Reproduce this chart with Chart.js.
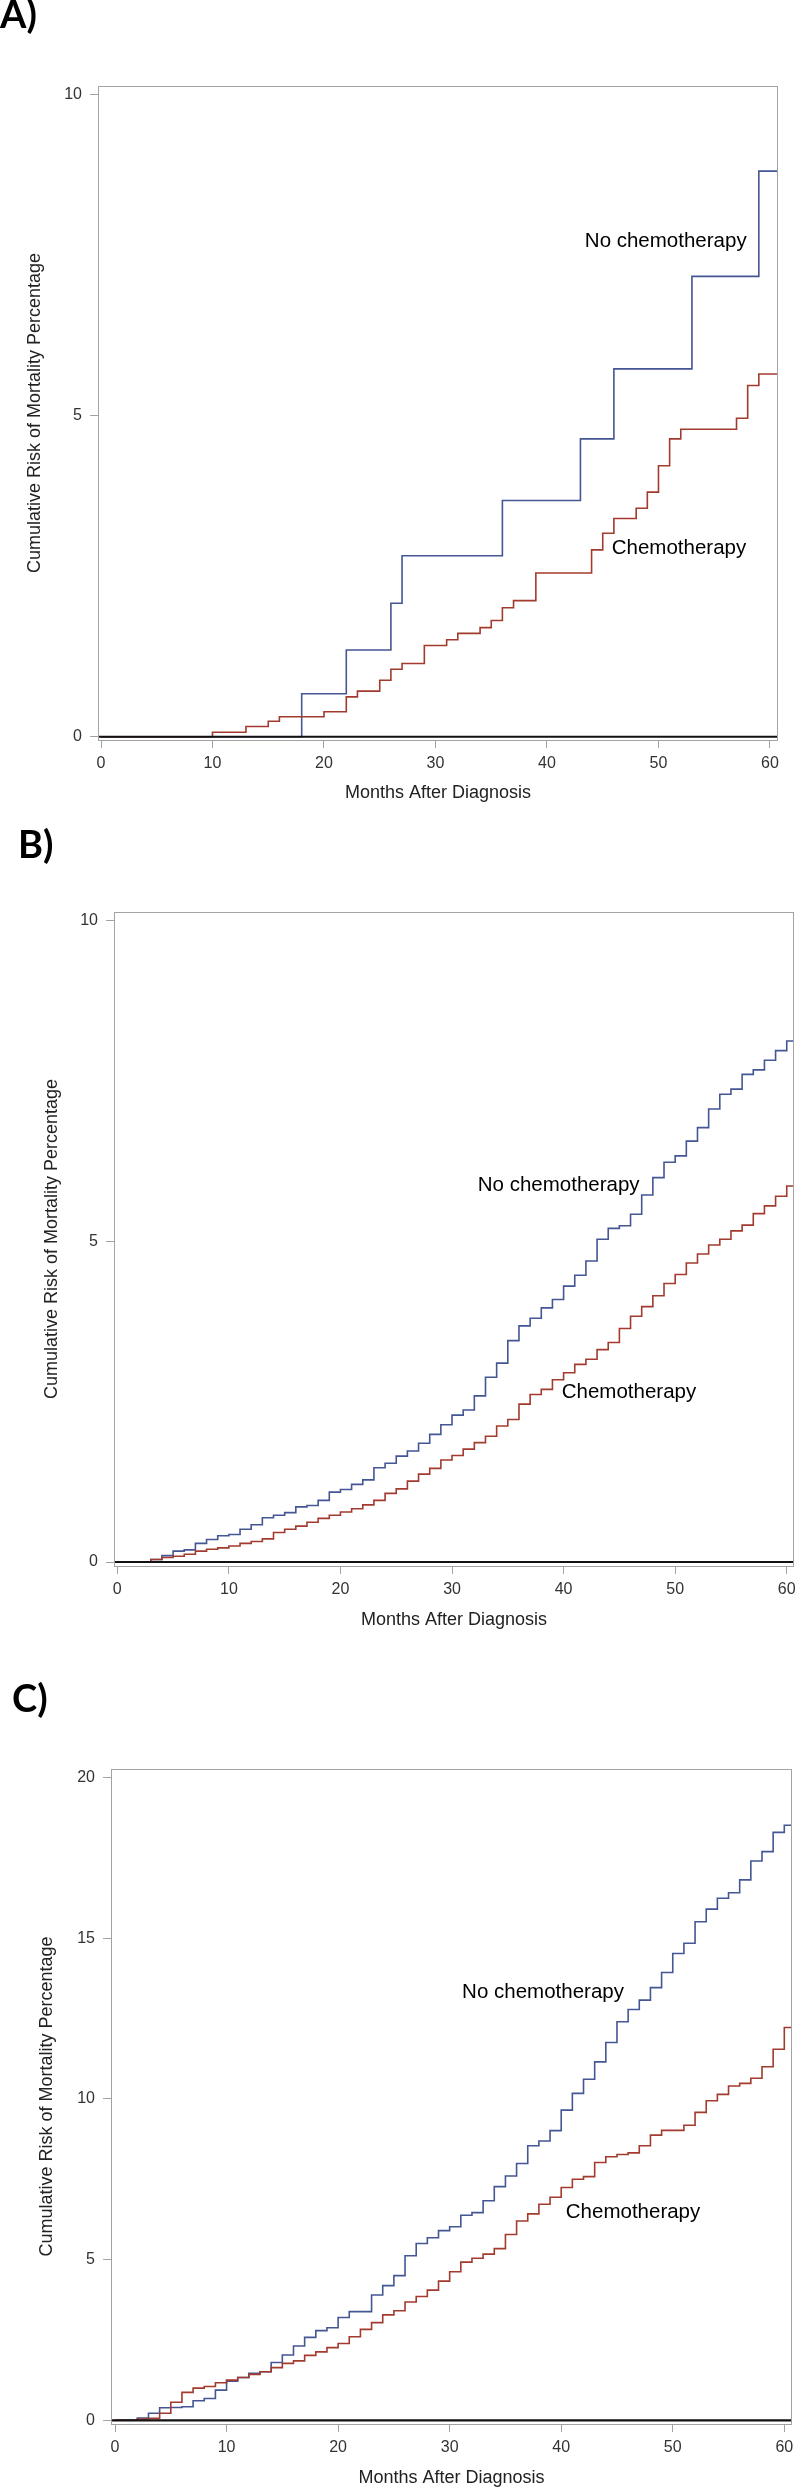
<!DOCTYPE html>
<html>
<head>
<meta charset="utf-8">
<script src="https://cdn.jsdelivr.net/npm/chart.js@4.4.1/dist/chart.umd.min.js"></script>
<style>
  html, body { margin: 0; padding: 0; background: #fff; overflow: hidden; }
  body { width: 796px; height: 2489px; position: relative; }
  canvas { position: absolute; left: 0; }
</style>
</head>
<body>
<canvas id="chartA" width="796" height="810" style="top:0px"></canvas>
<canvas id="chartB" width="796" height="830" style="top:810px"></canvas>
<canvas id="chartC" width="796" height="849" style="top:1640px"></canvas>
<script>
// tick labels
const xTicks = [0, 10, 20, 30, 40, 50, 60];
const yTicksAB = [0, 5, 10];
const yTicksC = [0, 5, 10, 15, 20];

// Panel A (event times in months, cumulative risk %)
const aNoChemoMonths = [0, 18, 22, 26, 27, 36, 43, 46, 53, 59, 61];
const aNoChemoRisk = [0, 0.67, 1.35, 2.08, 2.82, 3.68, 4.64, 5.73, 7.17, 8.81, 8.81];
const aChemoMonths = [0, 10, 13, 15, 16, 20, 22, 23, 25, 26, 27, 29, 31, 32, 34, 35, 36, 37, 39, 44, 45, 46, 48, 49, 50, 51, 52, 57, 58, 59, 61];
const aChemoRisk = [0, 0.07, 0.16, 0.24, 0.31, 0.39, 0.62, 0.71, 0.88, 1.05, 1.14, 1.42, 1.51, 1.61, 1.70, 1.81, 2.01, 2.12, 2.55, 2.91, 3.17, 3.40, 3.56, 3.81, 4.22, 4.64, 4.79, 4.96, 5.47, 5.65, 5.65];

// Panel B
const bMonths = [0, 3, 4, 5, 6, 7, 8, 9, 10, 11, 12, 13, 14, 15, 16, 17, 18, 19, 20, 21, 22, 23, 24, 25, 26, 27, 28, 29, 30, 31, 32, 33, 34, 35, 36, 37, 38, 39, 40, 41, 42, 43, 44, 45, 46, 47, 48, 49, 50, 51, 52, 53, 54, 55, 56, 57, 58, 59, 60, 61];
const bNoChemoRisk = [0, 0.04, 0.10, 0.17, 0.19, 0.29, 0.35, 0.41, 0.43, 0.51, 0.58, 0.69, 0.73, 0.77, 0.86, 0.88, 0.96, 1.09, 1.13, 1.21, 1.28, 1.47, 1.54, 1.65, 1.73, 1.85, 1.99, 2.14, 2.29, 2.37, 2.59, 2.88, 3.10, 3.45, 3.68, 3.80, 3.96, 4.09, 4.30, 4.47, 4.69, 5.03, 5.20, 5.24, 5.42, 5.72, 5.99, 6.23, 6.33, 6.56, 6.77, 7.06, 7.29, 7.37, 7.60, 7.67, 7.82, 7.97, 8.12, 8.12];
const bChemoRisk = [0, 0.04, 0.07, 0.09, 0.12, 0.17, 0.20, 0.22, 0.25, 0.29, 0.32, 0.36, 0.46, 0.51, 0.56, 0.62, 0.68, 0.73, 0.78, 0.83, 0.89, 0.96, 1.07, 1.14, 1.26, 1.37, 1.46, 1.59, 1.66, 1.76, 1.86, 1.96, 2.12, 2.22, 2.46, 2.61, 2.69, 2.84, 2.95, 3.08, 3.16, 3.31, 3.42, 3.64, 3.83, 3.98, 4.15, 4.34, 4.48, 4.66, 4.80, 4.94, 5.03, 5.16, 5.25, 5.43, 5.55, 5.70, 5.86, 5.86];

// Panel C
const cMonths = [0, 2, 3, 4, 5, 6, 7, 8, 9, 10, 11, 12, 13, 14, 15, 16, 17, 18, 19, 20, 21, 22, 23, 24, 25, 26, 27, 28, 29, 30, 31, 32, 33, 34, 35, 36, 37, 38, 39, 40, 41, 42, 43, 44, 45, 46, 47, 48, 49, 50, 51, 52, 53, 54, 55, 56, 57, 58, 59, 60, 61];
const cNoChemoRisk = [0, 0.07, 0.22, 0.39, 0.40, 0.42, 0.61, 0.68, 0.94, 1.22, 1.33, 1.46, 1.51, 1.80, 2.03, 2.31, 2.58, 2.79, 2.88, 3.20, 3.38, 3.38, 3.90, 4.19, 4.50, 5.12, 5.50, 5.68, 5.90, 6.02, 6.38, 6.46, 6.83, 7.27, 7.60, 7.99, 8.54, 8.69, 9.01, 9.65, 10.17, 10.61, 11.15, 11.75, 12.40, 12.78, 13.07, 13.46, 13.93, 14.52, 14.84, 15.51, 15.90, 16.24, 16.41, 16.81, 17.40, 17.69, 18.29, 18.51, 18.51];
const cChemoRisk = [0, 0.04, 0.06, 0.22, 0.56, 0.87, 1.00, 1.05, 1.17, 1.25, 1.33, 1.43, 1.51, 1.64, 1.77, 1.85, 2.02, 2.13, 2.26, 2.39, 2.60, 2.83, 3.04, 3.28, 3.41, 3.68, 3.85, 4.05, 4.33, 4.62, 4.92, 5.04, 5.17, 5.34, 5.78, 6.20, 6.42, 6.72, 6.94, 7.24, 7.50, 7.58, 8.02, 8.20, 8.27, 8.32, 8.54, 8.87, 9.02, 9.02, 9.18, 9.58, 9.94, 10.14, 10.40, 10.48, 10.64, 11.00, 11.54, 12.22, 12.22];

const FONT = "'Liberation Sans', Arial, sans-serif";
const BLUE = '#445694';
const RED = '#A23A2E';
const FRAME = '#a3a3a3';

const toPoints = (xs, ys) => xs.map((x, i) => ({ x: x, y: ys[i] }));

// frame, zero line, curve labels and panel letter
const panelDecor = {
  id: 'panelDecor',
  afterDatasetsDraw(chart, args, o) {
    const { ctx, chartArea: a, scales: { x, y } } = chart;
    ctx.save();
    const y0 = y.getPixelForValue(0);
    ctx.strokeStyle = '#111';
    ctx.lineWidth = 2.2;
    ctx.beginPath();
    ctx.moveTo(a.left, y0);
    ctx.lineTo(a.right, y0);
    ctx.stroke();

    ctx.strokeStyle = FRAME;
    ctx.lineWidth = 1;
    ctx.strokeRect(Math.round(a.left) + 0.5, Math.round(a.top) + 0.5,
      Math.round(a.right - a.left) - 1, Math.round(a.bottom - a.top));

    ctx.fillStyle = '#000';
    ctx.font = '20.5px ' + FONT;
    ctx.textAlign = 'center';
    ctx.textBaseline = 'middle';
    o.labels.forEach(l => {
      ctx.fillText(l.text, x.getPixelForValue(l.x), y.getPixelForValue(l.y));
    });

    ctx.font = "bold 38px Lato, 'Open Sans', sans-serif";
    ctx.textAlign = 'left';
    ctx.textBaseline = 'alphabetic';
    ctx.fillText(o.letter.text, o.letter.x, o.letter.y);
    ctx.restore();
  }
};

function makePanel(p) {
  const canvasH = p.height;
  new Chart(document.getElementById(p.id), {
    type: 'line',
    data: {
      datasets: [
        {
          label: 'Chemotherapy',
          data: toPoints(p.chemo[0], p.chemo[1]),
          borderColor: RED,
          borderWidth: 1.6,
          stepped: 'before',
          pointRadius: 0,
          fill: false
        },
        {
          label: 'No chemotherapy',
          data: toPoints(p.noChemo[0], p.noChemo[1]),
          borderColor: BLUE,
          borderWidth: 1.6,
          stepped: 'before',
          pointRadius: 0,
          fill: false
        }
      ]
    },
    options: {
      responsive: false,
      animation: false,
      events: [],
      layout: {
        padding: { left: 0, top: p.area.top - p.top, right: 796 - p.area.right, bottom: 0 }
      },
      plugins: {
        legend: { display: false },
        tooltip: { enabled: false },
        panelDecor: { labels: p.labels, letter: p.letter }
      },
      scales: {
        x: {
          type: 'linear',
          min: p.xMin,
          max: p.xMax,
          afterBuildTicks: s => { s.ticks = xTicks.map(v => ({ value: v })); },
          afterFit: s => {
            s.height = canvasH - (p.area.bottom - p.top);
            s.paddingLeft = 0;
            s.paddingRight = 0;
          },
          border: { display: false },
          grid: { drawOnChartArea: false, drawTicks: true, tickLength: 8, color: FRAME },
          ticks: {
            color: '#333',
            padding: 6,
            maxRotation: 0,
            autoSkip: false,
            font: { family: FONT, size: 16, lineHeight: 1.2 },
            callback: v => String(v)
          },
          title: {
            display: true,
            text: 'Months After Diagnosis',
            color: '#222',
            font: { family: FONT, size: 18, lineHeight: 1.2 },
            padding: { top: 0, bottom: p.xTitlePad }
          }
        },
        y: {
          type: 'linear',
          min: p.yMin,
          max: p.yMax,
          afterBuildTicks: s => { s.ticks = p.yTicks.map(v => ({ value: v })); },
          afterFit: s => {
            s.width = p.area.left;
            s.paddingTop = 0;
            s.paddingBottom = 0;
          },
          border: { display: false },
          grid: { drawOnChartArea: false, drawTicks: true, tickLength: 8, color: FRAME },
          ticks: {
            color: '#333',
            padding: 8,
            autoSkip: false,
            font: { family: FONT, size: 16, lineHeight: 1.2 },
            callback: v => String(v)
          },
          title: {
            display: true,
            text: 'Cumulative Risk of Mortality Percentage',
            color: '#222',
            font: { family: FONT, size: 18, lineHeight: 1.2 },
            padding: { top: p.yTitlePad, bottom: 0 }
          }
        }
      }
    },
    plugins: [panelDecor]
  });
}

makePanel({
  id: 'chartA', top: 0, height: 810,
  area: { left: 98, top: 86, right: 778, bottom: 740 },
  xMin: -0.27, xMax: 60.72, yMin: -0.051, yMax: 10.136, yTicks: yTicksAB,
  noChemo: [aNoChemoMonths, aNoChemoRisk],
  chemo: [aChemoMonths, aChemoRisk],
  labels: [
    { text: 'No chemotherapy', x: 50.65, y: 7.71 },
    { text: 'Chemotherapy', x: 51.84, y: 2.94 }
  ],
  letter: { text: 'A)', x: 0, y: 28 },
  yTitlePad: 24, xTitlePad: 6
});

makePanel({
  id: 'chartB', top: 810, height: 830,
  area: { left: 114, top: 912, right: 794, bottom: 1566 },
  xMin: -0.296, xMax: 60.65, yMin: -0.062, yMax: 10.13, yTicks: yTicksAB,
  noChemo: [bMonths, bNoChemoRisk],
  chemo: [bMonths, bChemoRisk],
  labels: [
    { text: 'No chemotherapy', x: 39.56, y: 5.87 },
    { text: 'Chemotherapy', x: 45.86, y: 2.65 }
  ],
  letter: { text: 'B)', x: 18, y: 48 },
  yTitlePad: 41, xTitlePad: 9
});

makePanel({
  id: 'chartC', top: 1640, height: 849,
  area: { left: 111, top: 1769, right: 792, bottom: 2424 },
  xMin: -0.36, xMax: 60.69, yMin: -0.115, yMax: 20.26, yTicks: yTicksC,
  noChemo: [cMonths, cNoChemoRisk],
  chemo: [cMonths, cChemoRisk],
  labels: [
    { text: 'No chemotherapy', x: 38.37, y: 13.30 },
    { text: 'Chemotherapy', x: 46.44, y: 6.48 }
  ],
  letter: { text: 'C)', x: 12, y: 72 },
  yTitlePad: 36, xTitlePad: 0
});
</script>
</body>
</html>
